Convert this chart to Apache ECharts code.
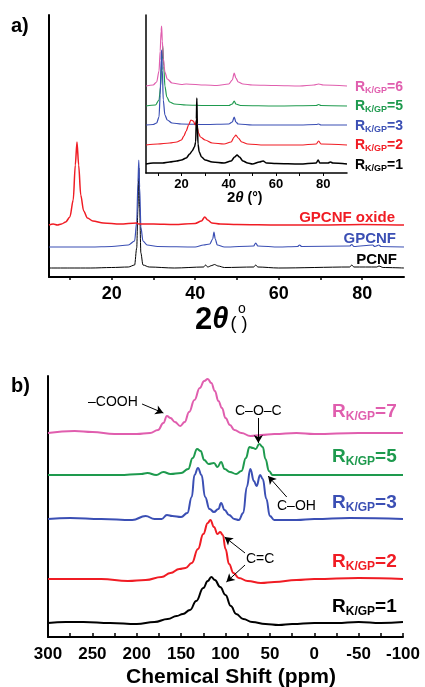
<!DOCTYPE html>
<html>
<head>
<meta charset="utf-8">
<script src="https://cdn.jsdelivr.net/npm/echarts@6/dist/echarts.min.js"></script>
<style>
html,body{margin:0;padding:0;background:#fff;}
#main{width:425px;height:687px;}
</style>
</head>
<body>
<div id="main"></div>
<script>
// panel a, main: 2theta (deg) vs intensity above baseline
var pcnf = [[5,0],[10,0],[15,0],[20,0.5],[24,1],[25.5,3],[26,20],[26.3,60],[26.5,100],[26.7,60],[27,15],[27.5,3],[29,1],[35,0],[42,1],[42.5,3],[43,1],[44,2.5],[44.6,3.5],[45.5,2],[47,0.5],[54,1],[54.5,3],[55,1],[60,0],[77,1],[77.5,3],[78,1],[83.5,1],[84,2],[85,0.5],[90,0]];
var gpcnf = [[5,0],[15,0],[20,0.5],[24,2],[25.5,6],[26,25],[26.3,65],[26.5,87],[26.7,60],[27,20],[27.5,6],[28.5,2],[31,0.5],[40,0],[42,2],[43.5,3],[44.2,8],[44.5,15],[44.8,8],[45.3,2],[47,0],[54,1],[54.5,4],[55,1],[60,0],[64.5,0.5],[65,2],[65.5,0.5],[77,1],[77.5,2.5],[78,0.5],[82.5,2],[83,0.5],[84,2],[84.5,0.5],[90,0]];
var gpcnfOxide = [[5,0],[6,1],[7,0],[8,1],[9,3],[10,8],[10.8,25],[11.3,60],[11.7,83],[12.1,60],[12.6,30],[13.3,14],[14.2,7],[15.5,4],[18,2],[22,1],[26,2],[26.5,1],[30,1],[35,0.5],[40,1.5],[41.5,4],[42.3,8],[43,5],[44,2],[46,1],[50,0.5],[60,0],[70,0],[80,0.5],[90,0]];
var mainOffsets = [9, 30, 52];

// panel a, inset
var xrd1 = [[5,0],[8,1],[12,1],[15,2],[18,3],[20,4],[22,6],[23.5,10],[24.5,13],[25.5,17],[26,22],[26.3,45],[26.5,66],[26.7,40],[27,20],[27.5,12],[28.5,7],[30,4],[33,2],[38,1],[41,3],[42.5,7],[43.5,9],[44.5,7],[46,3],[48,1],[50,0],[53,2],[54.5,3],[56,1],[60,0.5],[70,0],[77,1],[77.8,4],[78.5,1],[82,1],[83,2],[84,1],[90,0]];
var xrd2 = [[5,0],[10,1],[15,2],[18,3],[20,5],[21,9],[22,14],[23,20],[24,25],[25,24],[25.8,20],[26.3,24],[26.5,27],[26.7,18],[27.2,12],[28,8],[30,5],[33,2],[38,1],[41,3],[42.3,8],[43,10],[44,7],[45.5,3],[48,1],[55,0],[70,0],[77,1],[78,4],[79,1],[90,0]];
var xrd3 = [[5,0],[8,0.5],[9.5,2],[10.5,8],[11,30],[11.4,65],[11.6,75],[11.9,55],[12.3,25],[13,10],[14,5],[16,2],[20,1],[30,0.5],[40,1],[41.5,3],[42.3,8],[43,3],[44,1],[50,0],[70,0],[77,0.5],[78,1],[79,0],[90,0]];
var xrd5 = [[5,0],[9,1],[10.5,6],[11.2,20],[11.7,45],[12.1,60],[12.5,40],[13,20],[13.8,9],[15,4],[17,2],[22,1],[30,0.5],[40,0.5],[41.5,2],[42.3,5],[43,2],[45,0.5],[60,0],[77,0.5],[78,1.5],[79,0.5],[90,0]];
var xrd6 = [[5,0],[8,1],[9.5,4],[10.5,15],[11,35],[11.4,55],[11.6,60],[11.9,45],[12.3,28],[13,14],[14,7],[16,3],[20,1.5],[22,2],[30,1],[35,0.5],[40,2],[41.5,6],[42.3,13],[43,8],[44,4],[46,2],[50,1],[60,0.5],[70,0],[76,1],[78,2],[80,1],[90,0]];
var insetOffsets = [9, 28, 48, 67, 87];

// panel b: chemical shift (ppm) vs intensity above baseline
var nmr1 = [[300,0],[280,1],[260,1],[230,0],[200,-1],[180,1],[165,4],[155,7],[148,9],[140,13],[133,22],[125,35],[120,42],[116,46],[112,43],[106,36],[100,28],[94,17],[88,9],[80,4],[70,1],[55,-1],[40,-2],[25,-1],[0,0],[-25,0],[-50,1],[-75,0],[-100,1]];
var nmr2 = [[300,0],[270,0],[240,0],[210,-2],[190,-1],[172,2],[162,6],[152,10],[145,11],[138,16],[131,30],[125,45],[120,56],[117,59],[113,52],[109,45],[106,47],[103,44],[100,30],[96,15],[91,6],[85,1],[75,-2],[60,-4],[45,-3],[20,-1],[0,0],[-50,1],[-100,0]];
var nmr3 = [[300,0],[275,1],[240,0],[205,-1],[190,3],[180,0],[172,0],[166,4],[160,3],[150,2],[143,6],[138,22],[135,44],[131,51],[127,44],[123,22],[118,10],[113,7],[108,10],[105,16],[101,9],[96,4],[90,0],[85,-1],[80,6],[76,32],[72,50],[68,38],[65,33],[61,44],[58,40],[54,20],[50,3],[45,-1],[20,-1],[0,0],[-40,1],[-100,0]];
var nmr5 = [[300,0],[260,0],[220,0],[195,1],[188,2],[178,0],[170,3],[162,1],[150,2],[142,6],[137,17],[132,26],[128,24],[124,15],[119,11],[113,12],[109,8],[105,13],[101,6],[95,3],[88,1],[82,4],[77,17],[73,28],[69,27],[66,26],[62,31],[58,28],[55,16],[51,4],[47,0],[20,0],[0,0],[-50,0],[-100,0]];
var nmr7 = [[300,0],[270,2],[250,1],[225,-1],[200,-1],[185,0],[176,3],[170,10],[166,17],[162,15],[157,11],[151,7],[146,11],[141,21],[135,33],[129,45],[124,52],[120,54],[116,50],[112,42],[108,32],[104,25],[100,15],[95,8],[90,3],[82,0],[72,-3],[60,-2],[45,-1],[20,0],[0,-1],[-50,0],[-100,0]];
var nmrOffsets = [14, 58, 118, 162, 204];

var red = '#f01c24', blue = '#3b4fb4', green = '#1e9a4e', pink = '#e05eae', black = '#000';
var fontFam = '"Liberation Sans", Arial, sans-serif';

function shift(arr, off) {
    return arr.map(function (p) { return [p[0], p[1] + off]; });
}

function lineSeries(data, off, color, xi, width, sm) {
    return {
        type: 'line',
        xAxisIndex: xi,
        yAxisIndex: xi,
        data: shift(data, off),
        symbol: 'none',
        smooth: sm || 0.3,
        smoothMonotone: 'x',
        lineStyle: { color: color, width: width },
        silent: true,
        z: 2
    };
}

function rLabel(x, y, num, color, big, small) {
    return {
        type: 'text',
        x: x,
        y: y,
        style: {
            text: '{r|R}{s|K/GP}{r|=' + num + '}',
            fill: color,
            verticalAlign: 'middle',
            rich: {
                r: { fontSize: big, fontWeight: 'bold', fontFamily: fontFam, fill: color },
                s: { fontSize: small, fontWeight: 'bold', fontFamily: fontFam, fill: color, padding: [Math.round(big * 0.55), 0, 0, 0] }
            }
        }
    };
}

function plainText(x, y, txt, color, size, weight, align) {
    return {
        type: 'text',
        x: x,
        y: y,
        style: {
            text: txt,
            fill: color,
            font: (weight || 'bold') + ' ' + size + 'px ' + fontFam,
            align: align || 'left',
            verticalAlign: 'middle'
        }
    };
}

var chart = echarts.init(document.getElementById('main'));

var axisLine2 = { show: true, onZero: false, lineStyle: { color: '#000', width: 2 } };

var option = {
    animation: false,
    backgroundColor: '#fff',
    grid: [
        { left: 49, top: 15, width: 355, height: 262, outerBoundsMode: 'none' },
        { left: 146, top: 15, width: 201, height: 158, outerBoundsMode: 'none' },
        { left: 48, top: 376, width: 355, height: 261, outerBoundsMode: 'none' }
    ],
    xAxis: [
        {
            gridIndex: 0, type: 'value', min: 5, max: 90,
            axisLine: axisLine2,
            splitLine: { show: false },
            axisTick: { show: true, length: 3, lineStyle: { color: '#000', width: 1.5 }, customValues: [10, 20, 30, 40, 50, 60, 70, 80] },
            axisLabel: { customValues: [20, 40, 60, 80], color: '#000', fontSize: 18, fontWeight: 'bold', fontFamily: fontFam, margin: 8 }
        },
        {
            gridIndex: 1, type: 'value', min: 5, max: 90,
            axisLine: { show: true, onZero: false, lineStyle: { color: '#000', width: 1.5 } },
            splitLine: { show: false },
            axisTick: { show: true, length: 3, lineStyle: { color: '#000', width: 1 }, customValues: [10, 20, 30, 40, 50, 60, 70, 80] },
            axisLabel: { customValues: [20, 40, 60, 80], color: '#000', fontSize: 13, fontWeight: 'bold', fontFamily: fontFam, margin: 5 }
        },
        {
            gridIndex: 2, type: 'value', min: -100, max: 300, inverse: true,
            axisLine: axisLine2,
            splitLine: { show: false },
            axisTick: { show: true, inside: true, length: 4, lineStyle: { color: '#000', width: 1.5 }, customValues: [300, 275, 250, 225, 200, 175, 150, 125, 100, 75, 50, 25, 0, -25, -50, -75, -100] },
            axisLabel: { customValues: [300, 250, 200, 150, 100, 50, 0, -50, -100], color: '#000', fontSize: 17, fontWeight: 'bold', fontFamily: fontFam, margin: 9 }
        }
    ],
    yAxis: [
        { gridIndex: 0, type: 'value', min: 0, max: 262, axisLine: axisLine2, axisTick: { show: false }, axisLabel: { show: false }, splitLine: { show: false } },
        { gridIndex: 1, type: 'value', min: 0, max: 158, axisLine: { show: true, onZero: false, lineStyle: { color: '#000', width: 1.5 } }, axisTick: { show: false }, axisLabel: { show: false }, splitLine: { show: false } },
        { gridIndex: 2, type: 'value', min: 0, max: 261, axisLine: axisLine2, axisTick: { show: false }, axisLabel: { show: false }, splitLine: { show: false } }
    ],
    series: [
        lineSeries(pcnf, mainOffsets[0], black, 0, 1),
        lineSeries(gpcnf, mainOffsets[1], blue, 0, 1.2),
        lineSeries(gpcnfOxide, mainOffsets[2], red, 0, 1.5),
        lineSeries(xrd5, insetOffsets[3], green, 1, 1.2),
        lineSeries(xrd6, insetOffsets[4], pink, 1, 1.2),
        lineSeries(xrd3, insetOffsets[2], blue, 1, 1.2),
        lineSeries(xrd2, insetOffsets[1], red, 1, 1.2),
        lineSeries(xrd1, insetOffsets[0], black, 1, 1.5),
        lineSeries(nmr7, nmrOffsets[4], pink, 2, 2, 0.45),
        lineSeries(nmr5, nmrOffsets[3], green, 2, 2, 0.45),
        lineSeries(nmr3, nmrOffsets[2], blue, 2, 2, 0.45),
        lineSeries(nmr2, nmrOffsets[1], red, 2, 2, 0.45),
        {
            type: 'line', xAxisIndex: 2, yAxisIndex: 2,
            data: shift(nmr1, nmrOffsets[0]),
            symbol: 'none', smooth: 0.45, smoothMonotone: 'x',
            lineStyle: { color: black, width: 2 },
            silent: true,
            markLine: {
                silent: true,
                symbol: ['none', 'arrow'],
                symbolSize: [7, 8],
                label: { show: false },
                lineStyle: { color: '#000', width: 1, type: 'solid' },
                data: [
                    [{ coord: [194, 233] }, { coord: [170, 224] }],
                    [{ coord: [63, 219] }, { coord: [63, 194] }],
                    [{ coord: [31, 140] }, { coord: [52, 161] }],
                    [{ coord: [78, 84] }, { coord: [101, 100] }],
                    [{ coord: [78, 72] }, { coord: [99, 55] }]
                ]
            }
        }
    ],
    graphic: [
        plainText(11, 26, 'a)', '#000', 20, 'bold'),
        plainText(11, 386, 'b)', '#000', 20, 'bold'),
        plainText(395, 218, 'GPCNF oxide', red, 15, 'bold', 'right'),
        plainText(396, 239, 'GPCNF', blue, 15, 'bold', 'right'),
        plainText(397, 260, 'PCNF', black, 15, 'bold', 'right'),
        {
            type: 'text', x: 195, y: 320,
            style: {
                text: '{n|2}{t|θ}{p|( )}',
                verticalAlign: 'middle',
                rich: {
                    n: { fontSize: 31, fontWeight: 'bold', fontFamily: fontFam, fill: '#000' },
                    t: { fontSize: 29, fontWeight: 'bold', fontStyle: 'italic', fontFamily: fontFam, fill: '#000' },
                    p: { fontSize: 18, fontFamily: fontFam, fill: '#000', padding: [8, 0, 0, 2] }
                }
            }
        },
        plainText(238, 309, 'o', '#000', 14, 'normal'),
        {
            type: 'text', x: 227, y: 198,
            style: {
                text: '{n|2}{t|θ}{p| (°)}',
                verticalAlign: 'middle',
                rich: {
                    n: { fontSize: 15, fontWeight: 'bold', fontFamily: fontFam, fill: '#000' },
                    t: { fontSize: 15, fontWeight: 'bold', fontStyle: 'italic', fontFamily: fontFam, fill: '#000' },
                    p: { fontSize: 14, fontWeight: 'bold', fontFamily: fontFam, fill: '#000' }
                }
            }
        },
        rLabel(355, 87, 6, pink, 14, 9),
        rLabel(355, 106, 5, green, 14, 9),
        rLabel(355, 126, 3, blue, 14, 9),
        rLabel(355, 145, 2, red, 14, 9),
        rLabel(355, 165, 1, black, 14, 9),
        rLabel(332, 412, 7, pink, 19, 12),
        rLabel(332, 457, 5, green, 19, 12),
        rLabel(332, 503, 3, blue, 19, 12),
        rLabel(332, 562, 2, red, 19, 12),
        rLabel(332, 607, 1, black, 19, 12),
        plainText(88, 402, '–COOH', '#000', 14, 'normal'),
        plainText(235, 411, 'C–O–C', '#000', 14, 'normal'),
        plainText(277, 506, 'C–OH', '#000', 14, 'normal'),
        plainText(246, 559, 'C=C', '#000', 14, 'normal'),
        {
            type: 'text', x: 231, y: 677,
            style: { text: 'Chemical Shift (ppm)', fill: '#000', font: 'bold 21px ' + fontFam, align: 'center', verticalAlign: 'middle' }
        }
    ]
};

chart.setOption(option);
</script>
</body>
</html>
